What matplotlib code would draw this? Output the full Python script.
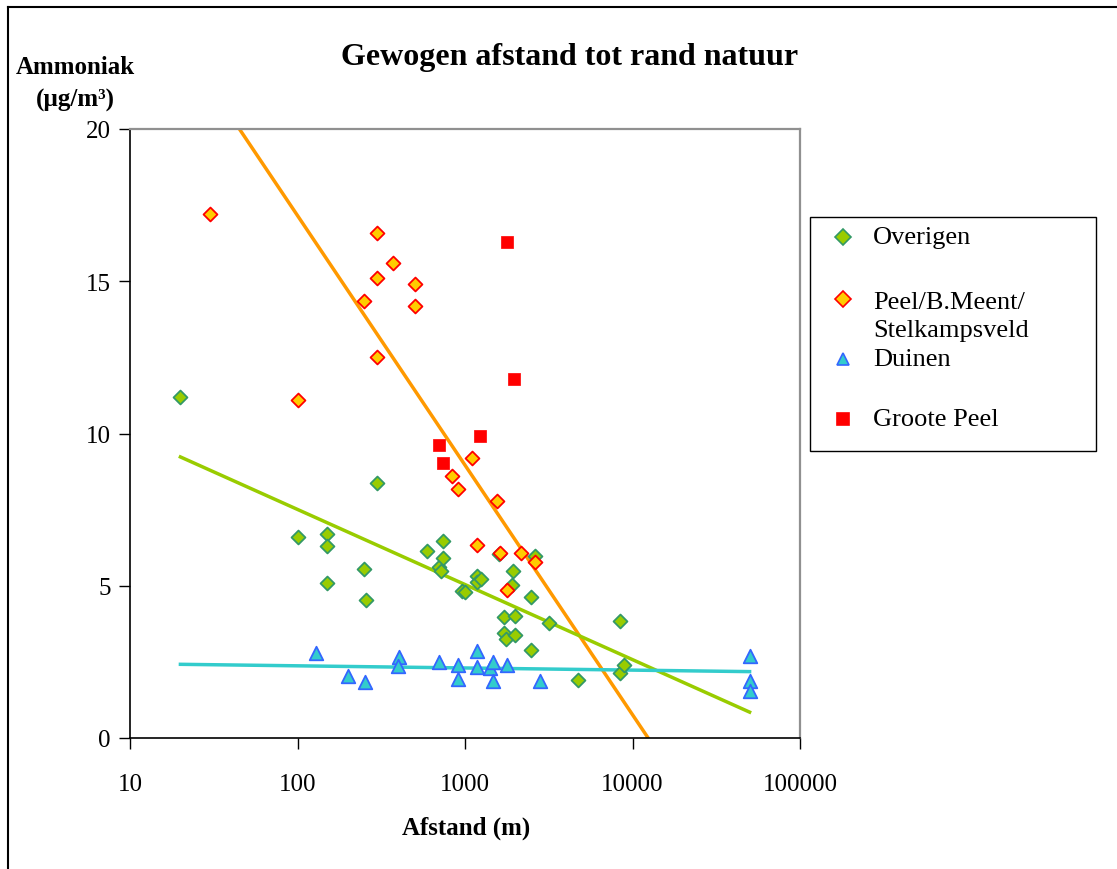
import numpy as np
import matplotlib
matplotlib.use("Agg")
import matplotlib.pyplot as plt
from matplotlib.lines import Line2D
from matplotlib.patches import Rectangle

plt.rcParams['font.family'] = ['Liberation Serif', 'DejaVu Serif']

# Overigen (green diamonds)
overigen_x = [20, 100, 150, 150, 150, 250, 255, 300, 593, 700, 715, 740, 740, 960, 1000,
              1180, 1180, 1247, 1600, 1711, 1711, 1760, 1900, 1936, 1991, 1991, 2477, 2477,
              2618, 3170, 4730, 8414, 8414, 8900]
overigen_y = [11.2, 6.6, 6.7, 6.3, 5.1, 5.55, 4.53, 8.37, 6.14, 5.62, 5.48, 6.47, 5.91, 4.83, 4.8,
              5.32, 5.12, 5.22, 6.04, 3.97, 3.45, 3.25, 5.02, 5.48, 4.0, 3.38, 4.63, 2.89,
              5.98, 3.78, 1.9, 3.84, 2.13, 2.4]

# Peel/B.Meent/Stelkampsveld (yellow diamonds, red edge)
peel_x = [30, 100, 250, 300, 300, 300, 372, 500, 500, 836, 907, 1101, 1180, 1553, 1618,
          1783, 2158, 2618]
peel_y = [17.2, 11.1, 14.35, 16.6, 15.1, 12.5, 15.6, 14.9, 14.2, 8.6, 8.18, 9.2, 6.35, 7.78, 6.07,
          4.85, 6.07, 5.78]

# Duinen (blue triangles)
duinen_x = [129, 200, 253, 404, 400, 700, 907, 907, 1180, 1180, 1409, 1470, 1470, 1783, 2806,
            50000, 50000, 50000]
duinen_y = [2.78, 2.04, 1.83, 2.66, 2.35, 2.5, 2.4, 1.94, 2.86, 2.33, 2.3, 2.5, 1.87, 2.4, 1.87,
            2.69, 1.87, 1.54]

# Groote Peel (red squares)
groote_x = [700, 740, 1230, 1783, 1963]
groote_y = [9.62, 9.03, 9.92, 16.3, 11.8]

# trend lines (end points)
trend_overigen_x = [20, 50000]
trend_overigen_y = [9.23, 0.85]
trend_peel_x = [45, 12400]
trend_peel_y = [20.0, 0.0]
trend_duinen_x = [20, 50000]
trend_duinen_y = [2.42, 2.18]

x_ticks = [10, 100, 1000, 10000, 100000]
y_ticks = [0, 5, 10, 15, 20]

W, H = 1117, 870
fig = plt.figure(figsize=(W / 100, H / 100), dpi=100)
ax = fig.add_axes([130 / W, 1 - 739 / H, 670 / W, 609 / H])

ax.plot(trend_peel_x, trend_peel_y, color='#FF9900', lw=2.5, zorder=2)
ax.plot(trend_overigen_x, trend_overigen_y, color='#99CC00', lw=2.5, zorder=2)
ax.plot(trend_duinen_x, trend_duinen_y, color='#33CCCC', lw=2.5, zorder=2)

ax.scatter(overigen_x, overigen_y, marker='D', s=50, c='#99CC00', edgecolors='#339966', linewidths=1.3, zorder=3)
ax.scatter(peel_x, peel_y, marker='D', s=50, c='#FFCC00', edgecolors='#FF0000', linewidths=1.3, zorder=4)
ax.scatter(duinen_x, duinen_y, marker='^', s=95, c='#33CCCC', edgecolors='#3366FF', linewidths=1.3, zorder=3)
ax.scatter(groote_x, groote_y, marker='s', s=75, c='#FF0000', edgecolors='#FF0000', linewidths=0.5, zorder=4)

ax.set_xscale('log')
ax.set_xlim(10, 100000)
ax.set_ylim(0, 20)
ax.set_xticks(x_ticks)
ax.set_xticklabels([str(v) for v in x_ticks])
ax.xaxis.set_minor_locator(matplotlib.ticker.NullLocator())
ax.set_yticks(y_ticks)
ax.set_yticklabels([str(v) for v in y_ticks])
ax.tick_params(axis='both', direction='out', length=8, width=1, labelsize=18, colors='black')
ax.tick_params(axis='x', pad=17)
ax.tick_params(axis='y', pad=6)

for side in ['left', 'bottom']:
    ax.spines[side].set_color('black')
    ax.spines[side].set_linewidth(1.2)
for side in ['top', 'right']:
    ax.spines[side].set_color('#909090')
    ax.spines[side].set_linewidth(1.6)

fig.text(570 / W, 1 - 58 / H, 'Gewogen afstand tot rand natuur', ha='center', va='center',
         fontsize=23, fontweight='bold')
fig.text(75 / W, 1 - 68 / H, 'Ammoniak', ha='center', va='center', fontsize=18, fontweight='bold')
fig.text(75 / W, 1 - 100 / H, '(µg/m³)', ha='center', va='center', fontsize=18, fontweight='bold')
fig.text(466 / W, 1 - 828 / H, 'Afstand (m)', ha='center', va='center', fontsize=18, fontweight='bold')

# legend box drawn by hand, the Peel label wraps like in the original
fig.add_artist(Rectangle((810 / W, 1 - 452 / H), 286 / W, 234 / H, transform=fig.transFigure,
                         facecolor='white', edgecolor='black', lw=1))
legend_rows = [
    ('D', '#99CC00', '#339966', 238, 'Overigen', 238),
    ('D', '#FFCC00', '#FF0000', 300, 'Peel/B.Meent/\nStelkampsveld', 317),
    ('^', '#33CCCC', '#3366FF', 360, 'Duinen', 360),
    ('s', '#FF0000', '#FF0000', 420, 'Groote Peel', 420),
]
for mk, fc, ec, yp, label, ty in legend_rows:
    fig.add_artist(Line2D([843 / W], [1 - yp / H], marker=mk, markersize=8, markerfacecolor=fc,
                          markeredgecolor=ec, markeredgewidth=1.2, linestyle='none', transform=fig.transFigure))
    fig.text(873 / W, 1 - ty / H, label, ha='left', va='center', fontsize=19, linespacing=1.38)

# outer frame (only left and top edge are visible in the original)
fig.add_artist(Line2D([8 / W, 8 / W], [0, 1 - 8 / H], color='black', lw=1.5, transform=fig.transFigure))
fig.add_artist(Line2D([8 / W, 1], [1 - 8 / H, 1 - 8 / H], color='black', lw=1.5, transform=fig.transFigure))

fig.savefig('out.png', dpi=100)
